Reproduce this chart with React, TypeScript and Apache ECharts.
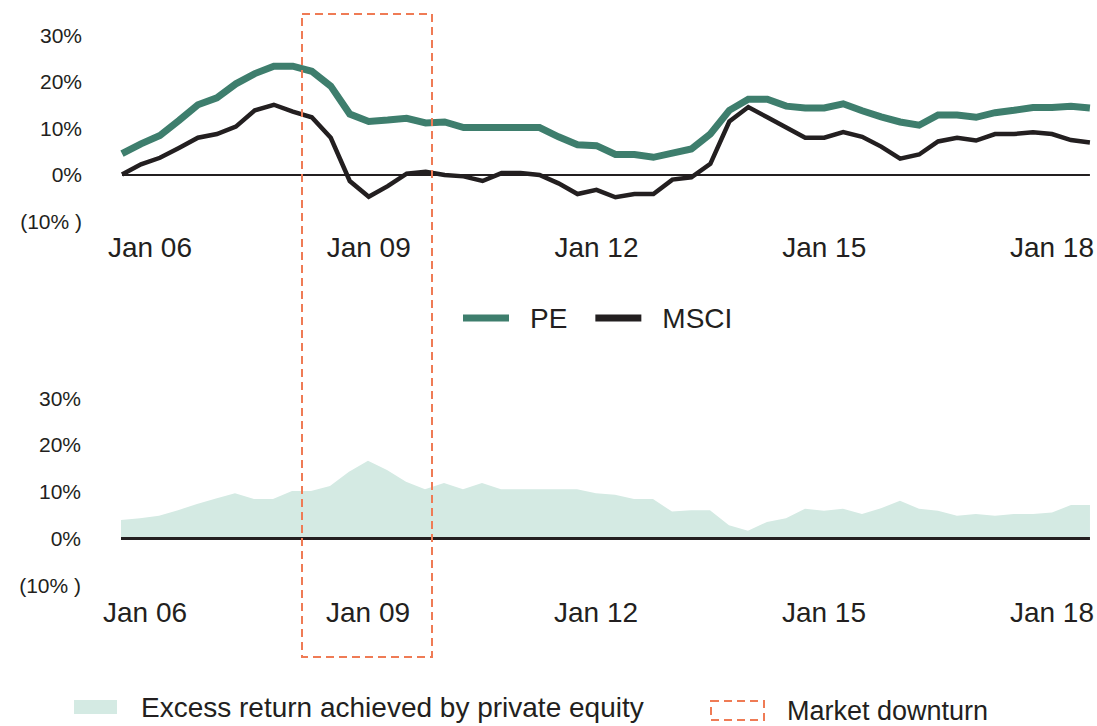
import React, { useEffect, useRef } from "react";
import * as echarts from "echarts";

// Quarterly categories, Oct 05 .. Jul 18
const quarters = [
  "Oct 05",
  "Jan 06", "Apr 06", "Jul 06", "Oct 06",
  "Jan 07", "Apr 07", "Jul 07", "Oct 07",
  "Jan 08", "Apr 08", "Jul 08", "Oct 08",
  "Jan 09", "Apr 09", "Jul 09", "Oct 09",
  "Jan 10", "Apr 10", "Jul 10", "Oct 10",
  "Jan 11", "Apr 11", "Jul 11", "Oct 11",
  "Jan 12", "Apr 12", "Jul 12", "Oct 12",
  "Jan 13", "Apr 13", "Jul 13", "Oct 13",
  "Jan 14", "Apr 14", "Jul 14", "Oct 14",
  "Jan 15", "Apr 15", "Jul 15", "Oct 15",
  "Jan 16", "Apr 16", "Jul 16", "Oct 16",
  "Jan 17", "Apr 17", "Jul 17", "Oct 17",
  "Jan 18", "Apr 18", "Jul 18",
];

const tickLabels = ["Jan 06", "Jan 09", "Jan 12", "Jan 15", "Jan 18"];
const yTicks = [-10, 0, 10, 20, 30];

const peReturns = [
  4.5, 6.6, 8.4, 11.6, 15.0, 16.5, 19.5, 21.7, 23.3, 23.3, 22.2, 19.0, 13.0,
  11.4, 11.7, 12.1, 11.1, 11.3, 10.1, 10.1, 10.1, 10.1, 10.1, 8.1, 6.4, 6.2,
  4.3, 4.3, 3.7, 4.6, 5.5, 8.7, 13.8, 16.2, 16.2, 14.7, 14.3, 14.3, 15.2, 13.7,
  12.4, 11.3, 10.6, 12.8, 12.8, 12.3, 13.3, 13.8, 14.4, 14.4, 14.7, 14.3,
];

const msciReturns = [
  0.0, 2.2, 3.6, 5.7, 7.9, 8.7, 10.3, 13.8, 15.0, 13.5, 12.3, 7.9, -1.4, -4.8,
  -2.5, 0.2, 0.6, -0.1, -0.4, -1.4, 0.3, 0.3, -0.1, -1.9, -4.2, -3.3, -4.9,
  -4.2, -4.2, -1.1, -0.6, 2.3, 11.4, 14.5, 12.3, 10.1, 7.9, 7.9, 9.1, 8.1, 6.0,
  3.4, 4.3, 7.1, 7.9, 7.3, 8.7, 8.7, 9.1, 8.7, 7.4, 6.9,
];

const excessReturns = [
  3.9, 4.3, 4.8, 6.0, 7.3, 8.5, 9.6, 8.4, 8.4, 10.1, 10.1, 11.2, 14.2, 16.6,
  14.6, 12.1, 10.5, 11.8, 10.5, 11.8, 10.5, 10.5, 10.5, 10.5, 10.5, 9.6, 9.3,
  8.4, 8.4, 5.7, 6.0, 6.0, 2.8, 1.6, 3.5, 4.3, 6.3, 5.9, 6.3, 5.2, 6.4, 8.0,
  6.3, 5.9, 4.8, 5.2, 4.8, 5.2, 5.2, 5.5, 7.1, 7.1,
];

const TEXT = "#231F20";
const TEAL = "#3E7E6D";
const BLACK = "#231F20";
const MINT = "#D4EAE3";
const ORANGE = "#EF7B55";
const FONT = "Liberation Sans, Arial, sans-serif";

export default function App() {
  const ref = useRef<HTMLDivElement>(null);

  useEffect(() => {
    if (!ref.current) return;
    const chart = echarts.init(ref.current, null, { renderer: "svg" });

    const yAxisBase = (shift: number) => ({
      type: "value" as const,
      min: -10,
      max: 30,
      interval: 10,
      splitLine: { show: false },
      axisLine: { show: false },
      axisTick: { show: false },
      axisLabel: {
        color: TEXT,
        fontSize: 21,
        fontFamily: FONT,
        margin: 40,
        padding: [shift * 2, 0, 0, 0],
        formatter: (v: number) =>
          yTicks.includes(v) ? (v < 0 ? `(${-v}% )` : `${v}%`) : "",
      },
    });

    const xAxisBase = (gridIndex: number, margin: number, firstShift: number) => ({
      type: "category" as const,
      gridIndex,
      data: quarters,
      boundaryGap: false,
      axisLine: { show: false },
      axisTick: { show: false },
      axisLabel: {
        color: TEXT,
        fontSize: 28,
        fontFamily: FONT,
        margin,
        interval: (_i: number, v: string) => tickLabels.includes(v),
        formatter: (v: string) => (v === tickLabels[0] ? `{first|${v}}` : v),
        rich: {
          first: {
            color: TEXT,
            fontSize: 28,
            fontFamily: FONT,
            padding: [0, 0, 0, firstShift],
          },
        },
      },
    });

    chart.setOption({
      animation: false,
      textStyle: { fontFamily: FONT },
      grid: [
        { left: 122, top: 35, width: 969, height: 186 },
        { left: 121, top: 398, width: 975, height: 187 },
      ],
      xAxis: [xAxisBase(0, 12, 18), xAxisBase(1, 13, 10)],
      yAxis: [
        { ...yAxisBase(6), gridIndex: 0 },
        { ...yAxisBase(2), gridIndex: 1 },
      ],
      legend: [
        {
          left: 463,
          top: 304,
          padding: 0,
          itemWidth: 46,
          itemHeight: 7,
          itemGap: 28,
          icon: "rect",
          textStyle: {
            color: TEXT,
            fontSize: 28,
            fontFamily: FONT,
            lineHeight: 28,
            padding: [0, 0, 0, 16],
          },
          data: ["PE", "MSCI"],
        },
        {
          left: 74,
          top: 693,
          padding: 0,
          itemWidth: 43,
          itemHeight: 14,
          icon: "rect",
          textStyle: {
            color: TEXT,
            fontSize: 28,
            fontFamily: FONT,
            lineHeight: 28,
            padding: [0, 0, 0, 19],
          },
          data: ["Excess return achieved by private equity"],
        },
      ],
      series: [
        {
          name: "PE",
          type: "line",
          xAxisIndex: 0,
          yAxisIndex: 0,
          data: peReturns,
          symbol: "none",
          itemStyle: { color: TEAL },
          lineStyle: { color: TEAL, width: 7, join: "miter" },
          z: 3,
          markLine: {
            silent: true,
            symbol: ["none", "none"],
            label: { show: false },
            lineStyle: { color: BLACK, width: 2, type: "solid" },
            data: [{ yAxis: 0 }],
            z: 1,
          },
        },
        {
          name: "MSCI",
          type: "line",
          xAxisIndex: 0,
          yAxisIndex: 0,
          data: msciReturns,
          symbol: "none",
          itemStyle: { color: BLACK },
          lineStyle: { color: BLACK, width: 4.5, join: "miter" },
          z: 4,
        },
        {
          name: "Excess return achieved by private equity",
          type: "line",
          xAxisIndex: 1,
          yAxisIndex: 1,
          data: excessReturns,
          symbol: "none",
          itemStyle: { color: MINT },
          lineStyle: { width: 0, color: MINT },
          areaStyle: { color: MINT, opacity: 1 },
          markLine: {
            silent: true,
            symbol: ["none", "none"],
            label: { show: false },
            lineStyle: { color: BLACK, width: 3, type: "solid" },
            data: [{ yAxis: 0 }],
          },
        },
      ],
      graphic: [
        {
          type: "rect",
          shape: { x: 302, y: 14, width: 130, height: 643 },
          style: { fill: "none", stroke: ORANGE, lineWidth: 2, lineDash: [8, 5] },
          z: 100,
        },
        {
          type: "rect",
          shape: { x: 711, y: 701, width: 53, height: 19 },
          style: { fill: "none", stroke: ORANGE, lineWidth: 2, lineDash: [8, 5] },
        },
        {
          type: "text",
          x: 787,
          y: 711,
          style: {
            text: "Market downturn",
            fill: TEXT,
            fontSize: 27,
            fontFamily: FONT,
            verticalAlign: "middle",
            align: "left",
          },
        },
      ],
    });

    return () => chart.dispose();
  }, []);

  return (
    <div
      ref={ref}
      style={{ position: "fixed", left: 0, top: 0, width: 1097, height: 726, background: "#fff" }}
    />
  );
}
